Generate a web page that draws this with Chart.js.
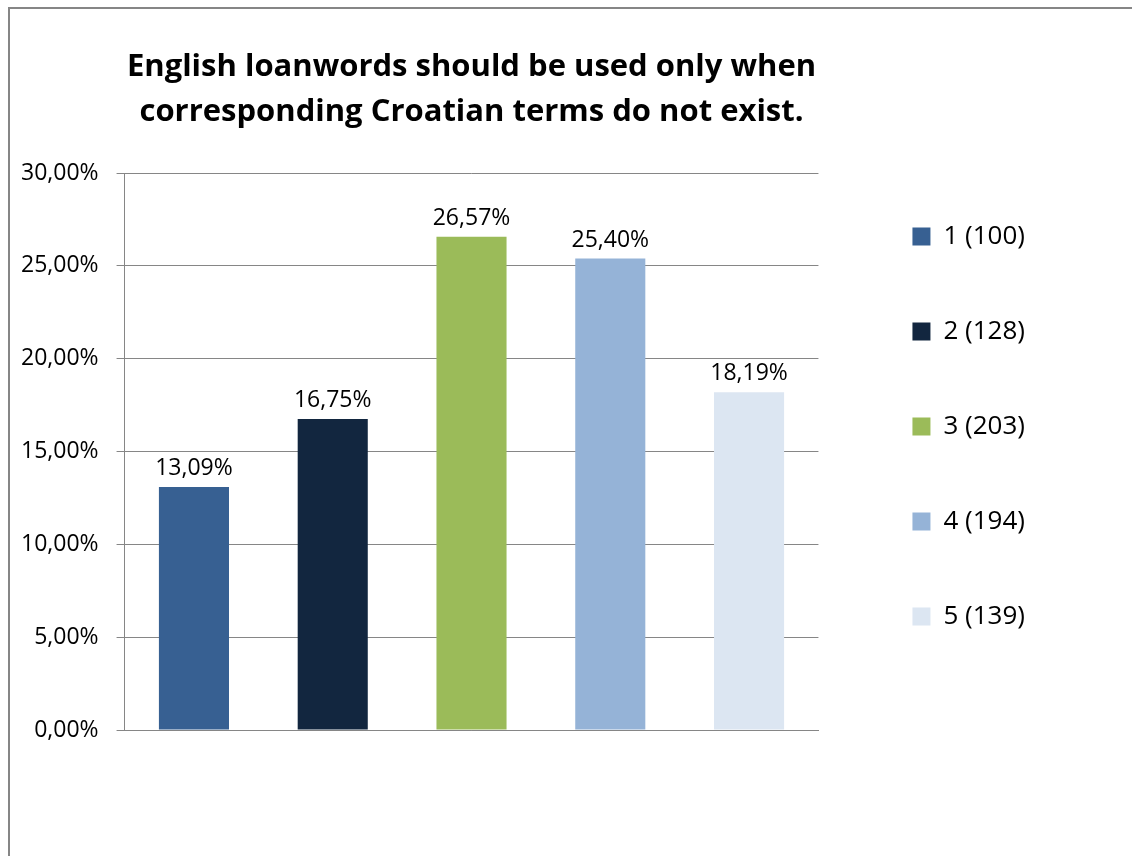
<!DOCTYPE html>
<html>
<head>
<meta charset="utf-8">
<script src="https://cdn.jsdelivr.net/npm/chart.js@4"></script>
<style>
  html, body { margin: 0; padding: 0; background: #fff; overflow: hidden; }
  #frame {
    position: absolute; left: 8px; top: 7px; width: 1400px; height: 1200px;
    border: 2px solid #868686;
  }
  #chart { position: absolute; left: 0; top: 0; }
</style>
</head>
<body>
<div id="frame"></div>
<canvas id="chart" width="1132" height="856"></canvas>
<script>
const titleLines = [
  "English loanwords should be used only when",
  "corresponding Croatian terms do not exist.",
];
const answerLabels = ["1 (100)", "2 (128)", "3 (203)", "4 (194)", "5 (139)"];
const percentValues = [13.09, 16.75, 26.57, 25.40, 18.19];
const barColors = ["#376092", "#12263f", "#9bbb59", "#95b3d7", "#dce6f2"];
const yTicks = [0, 5, 10, 15, 20, 25, 30];

const gridGray = "#868686";

function formatPercent(v) {
  return v.toFixed(2).replace(".", ",") + "%";
}

// labels over each bar, placed from the bar elements
const barValueLabels = {
  id: "barValueLabels",
  afterDatasetsDraw(chart) {
    const ctx = chart.ctx;
    const meta = chart.getDatasetMeta(0);
    ctx.save();
    ctx.font = "23px 'Open Sans'";
    ctx.fillStyle = "#000";
    ctx.textAlign = "center";
    ctx.textBaseline = "alphabetic";
    meta.data.forEach((bar, i) => {
      ctx.fillText(formatPercent(percentValues[i]), bar.x, bar.y - 12);
    });
    ctx.restore();
  },
};

Chart.defaults.font.family = "'Open Sans', sans-serif";
Chart.defaults.color = "#000";

new Chart(document.getElementById("chart"), {
  type: "bar",
  data: {
    labels: answerLabels,
    datasets: [
      {
        data: percentValues,
        backgroundColor: barColors,
        borderWidth: 0,
        categoryPercentage: 1,
        barPercentage: 0.505,
      },
    ],
  },
  options: {
    responsive: false,
    animation: false,
    layout: { padding: { left: 3, right: 97, top: 9, bottom: 12 } },
    plugins: {
      tooltip: { enabled: false },
      title: {
        display: true,
        text: titleLines,
        fullSize: false,
        color: "#000",
        font: { size: 31, weight: "bold", lineHeight: 1.47 },
        padding: { top: 35, bottom: 38 },
      },
      legend: {
        position: "right",
        maxWidth: 260,
        labels: {
          boxWidth: 18,
          boxHeight: 18,
          padding: 69,
          color: "#000",
          font: { size: 26 },
          generateLabels: () =>
            answerLabels.map((text, i) => ({
              text,
              fillStyle: barColors[i],
              strokeStyle: barColors[i],
              lineWidth: 0,
              hidden: false,
              index: i,
            })),
        },
      },
    },
    scales: {
      x: {
        ticks: { display: false },
        grid: { display: false, drawTicks: false },
        border: { color: gridGray, width: 1 },
        afterFit: (scale) => { scale.height = 114; },
      },
      y: {
        min: 0,
        max: 30,
        afterBuildTicks: (scale) => { scale.ticks = yTicks.map((v) => ({ value: v })); },
        ticks: {
          padding: 18,
          font: { size: 23 },
          color: "#000",
          callback: (v) => formatPercent(v),
        },
        grid: { color: gridGray, lineWidth: 1, tickLength: 8 },
        border: { color: gridGray, width: 1 },
      },
      gap: {
        position: "right",
        display: true,
        ticks: { display: false },
        grid: { display: false, drawTicks: false },
        border: { display: false },
        afterFit: (scale) => { scale.width = 25; },
      },
    },
  },
  plugins: [barValueLabels],
});
</script>
</body>
</html>
